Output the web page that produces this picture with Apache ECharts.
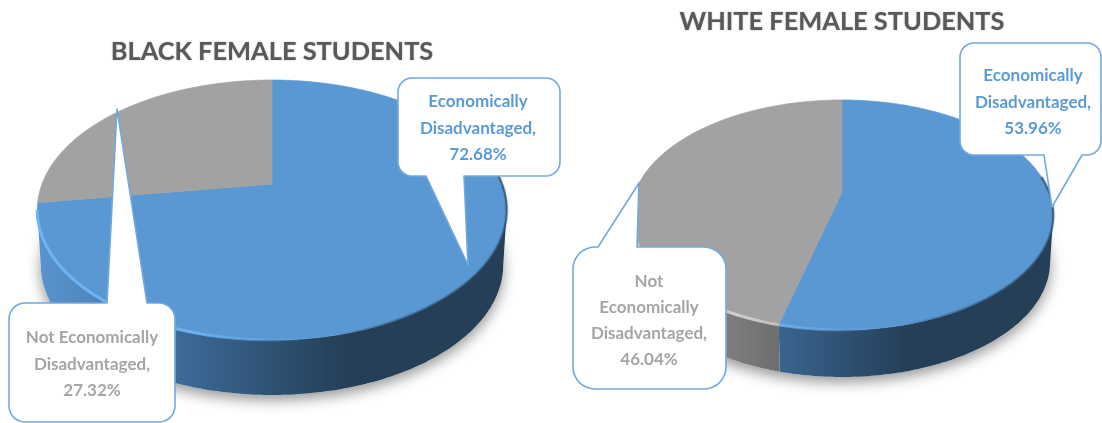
<!DOCTYPE html>
<html>
<head>
<meta charset="utf-8">
<style>html,body{margin:0;padding:0;background:#fff}#chart{width:1102px;height:423px}</style>
<script src="https://cdn.jsdelivr.net/npm/echarts@6/dist/echarts.min.js"></script>
</head>
<body>
<div id="chart"></div>
<script>
// Shares of economically disadvantaged students, in percent
const sliceNames = ['Economically Disadvantaged', 'Not Economically Disadvantaged'];
const blackShares = [72.68, 27.32];
const whiteShares = [53.96, 46.04];
const chartTitles = ['BLACK FEMALE STUDENTS', 'WHITE FEMALE STUDENTS'];
const blackLabelLines = [['Economically', 'Disadvantaged,'], ['Not Economically', 'Disadvantaged,']];
const whiteLabelLines = [['Economically', 'Disadvantaged,'], ['Not', 'Economically', 'Disadvantaged,']];

const shares = [blackShares, whiteShares];
const labelLines = [blackLabelLines, whiteLabelLines];

// Tilted-disc geometry of each pie
const discs = [
  { cx: 272, cy: 184, a: 230, b: 124.8, depth: 55 },
  { cx: 842, cy: 192, a: 207, b: 110.4, depth: 47 }
];
const PERSPECTIVE = 0.2;
const FRONT_START = 101.5, FRONT_END = 258.5; // clockwise degrees of the visible wall

// Callout boxes: rectangle, corner radius, pointer base on the box edge, pointer tip
const callouts = [
  [
    { x: 398, y: 78, w: 162, h: 98, r: 14, base: [464, 426], tip: [468, 265], tx: 478, ty: 102, lh: 26.5 },
    { x: 9, y: 303, w: 166, h: 119, r: 16, base: [107, 147], tip: [117, 109], top: true, tx: 92, ty: 338, lh: 26.5 }
  ],
  [
    { x: 960, y: 43, w: 141, h: 112, r: 14, base: [1082, 1044], tip: [1052, 207], tx: 1033, ty: 76, lh: 26.5 },
    { x: 573, y: 247, w: 153, h: 142, r: 22, base: [598, 637], tip: [639, 183], top: true, tx: 649, ty: 282, lh: 25.7 }
  ]
];

const BLUE = '#5a98d4', GREY = '#a2a2a2', LABEL_COLORS = ['#5b9bd5', '#a5a5a5'];
const LABEL_FONT = 'bold 17px Lato';

function project(d, deg, lift, scale) {
  const t = deg * Math.PI / 180, u = Math.sin(t), v = Math.cos(t), w = 1 + PERSPECTIVE * v;
  return [d.cx + scale * d.a * u / w, d.cy + lift - d.b * v / w];
}
function arc(d, from, to, lift, scale) {
  const pts = [], n = Math.max(1, Math.ceil(Math.abs(to - from)));
  for (let i = 0; i <= n; i++) pts.push(project(d, from + (to - from) * i / n, lift, scale));
  return pts;
}
function hGradient(d, stops) {
  const left = d.cx - d.a * 1.02, right = d.cx + d.a * 1.02;
  return { type: 'linear', x: left, y: 0, x2: right, y2: 0, global: true,
    colorStops: stops.map(s => ({ offset: s[0], color: s[1] })) };
}

const wallStops = [
  [[0, '#5b94cf'], [0.14, '#4d84bb'], [0.3, '#3c6a99'], [0.5, '#2f5274'], [0.66, '#243f57'], [1, '#243f56']],
  [[0, '#8a8a8a'], [0.25, '#7c7c7c'], [0.36, '#6c6c6c'], [1, '#666666']]
];
const rimStops = [
  [[0, '#6fb4f5'], [0.32, '#6cb0f2'], [0.58, 'rgba(108,176,242,0)'], [1, 'rgba(108,176,242,0)']],
  [[0, '#c8c8c8'], [0.25, '#cfcfcf'], [0.36, '#bbbbbb'], [1, '#bbbbbb']]
];
const edgeStops = [[0, 'rgba(36,63,87,0)'], [0.62, 'rgba(36,63,87,0)'], [0.85, 'rgba(36,63,87,0.45)'], [1, 'rgba(36,63,87,0.55)']];

function renderShadow(params, api) {
  const d = discs[api.value(0)];
  const pts = arc(d, 0, 360, d.depth, 0.985);
  return {
    type: 'polygon',
    shape: { points: pts },
    style: { fill: '#ffffff', shadowColor: 'rgba(0,0,0,0.42)', shadowBlur: 14, shadowOffsetY: 5 }
  };
}

function renderSlice(params, api) {
  const chart = api.value(0), slice = api.value(1), d = discs[chart];
  const list = shares[chart];
  let start = 0;
  for (let i = 0; i < slice; i++) start += list[i];
  const from = start * 3.6, to = (start + api.value(2)) * 3.6;
  const children = [];
  const topColor = slice === 0 ? BLUE : GREY;

  // Visible part of the outer wall, then the rim highlight along it
  const wFrom = Math.max(from, FRONT_START), wTo = Math.min(to, FRONT_END);
  let rimPts = null;
  if (wTo > wFrom) {
    rimPts = arc(d, wFrom, wTo, 0, 1);
    const lower = arc(d, wTo, wFrom, d.depth, 0.985);
    children.push({
      type: 'polygon',
      shape: { points: rimPts.concat(lower) },
      style: { fill: hGradient(d, wallStops[slice]) }
    });
  }
  // Top face
  children.push({
    type: 'polygon',
    shape: { points: [[d.cx, d.cy]].concat(arc(d, from, to, 0, 1)) },
    style: { fill: topColor, stroke: topColor, lineWidth: 0.7 }
  });
  if (rimPts) {
    children.push({
      type: 'polyline',
      shape: { points: rimPts },
      style: { fill: null, stroke: hGradient(d, rimStops[slice]), lineWidth: 3 }
    });
  }
  // Soft dark edge where the disc turns away on the right
  if (slice === 0) {
    children.push({
      type: 'polyline',
      shape: { points: arc(d, 82, Math.min(to, 180), 0, 1) },
      style: {
        fill: null, stroke: hGradient(d, edgeStops), lineWidth: 2,
        shadowColor: 'rgba(36,63,87,0.8)', shadowBlur: 2
      }
    });
  }
  return { type: 'group', children };
}

function calloutOutline(c) {
  const pts = [];
  const corner = (x, y, a0) => {
    for (let i = 0; i <= 8; i++) {
      const a = (a0 + i * 90 / 8) * Math.PI / 180;
      pts.push([x + c.r * Math.cos(a), y + c.r * Math.sin(a)]);
    }
  };
  const r = c.x + c.w, b = c.y + c.h;
  corner(c.x + c.r, c.y + c.r, 180);
  if (c.top) { pts.push([c.base[0], c.y], c.tip, [c.base[1], c.y]); }
  corner(r - c.r, c.y + c.r, 270);
  corner(r - c.r, b - c.r, 0);
  if (!c.top) { pts.push([c.base[0], b], c.tip, [c.base[1], b]); }
  corner(c.x + c.r, b - c.r, 90);
  return pts;
}

function renderCallout(params, api) {
  const chart = api.value(0), slice = api.value(1), c = callouts[chart][slice];
  const lines = labelLines[chart][slice].concat([api.value(2).toFixed(2) + '%']);
  return {
    type: 'group',
    children: [
      {
        type: 'polygon',
        shape: { points: calloutOutline(c) },
        style: { fill: '#ffffff', stroke: '#72a9dc', lineWidth: 1.6, lineJoin: 'round' }
      }
    ].concat(lines.map((line, i) => ({
      type: 'text',
      style: {
        text: line, x: c.tx, y: c.ty + i * c.lh,
        fill: LABEL_COLORS[slice], font: LABEL_FONT,
        textAlign: 'center', textVerticalAlign: 'middle'
      }
    })))
  };
}

const sliceData = [];
shares.forEach((list, chart) => list.forEach((v, slice) => sliceData.push({ name: sliceNames[slice], value: [chart, slice, v] })));

const titleStyle = {
  fontFamily: 'Lato', fontWeight: 'bold', fontSize: 25.4, color: '#595959',
  textShadowColor: 'rgba(89,89,89,0.55)', textShadowBlur: 1.5
};

const myChart = echarts.init(document.getElementById('chart'), null, { renderer: 'canvas' });
myChart.setOption({
  animation: false,
  backgroundColor: '#ffffff',
  title: [
    { text: chartTitles[0], left: 272, top: 52, textAlign: 'center', textVerticalAlign: 'middle', textStyle: titleStyle, padding: 0 },
    { text: chartTitles[1], left: 842, top: 22, textAlign: 'center', textVerticalAlign: 'middle', textStyle: titleStyle, padding: 0 }
  ],
  series: [
    { type: 'custom', coordinateSystem: 'none', renderItem: renderShadow, silent: true, z: 1, data: [[0], [1]] },
    { type: 'custom', coordinateSystem: 'none', renderItem: renderSlice, silent: true, z: 2, data: sliceData },
    { type: 'custom', coordinateSystem: 'none', renderItem: renderCallout, silent: true, z: 3, data: sliceData }
  ]
});
</script>
</body>
</html>
